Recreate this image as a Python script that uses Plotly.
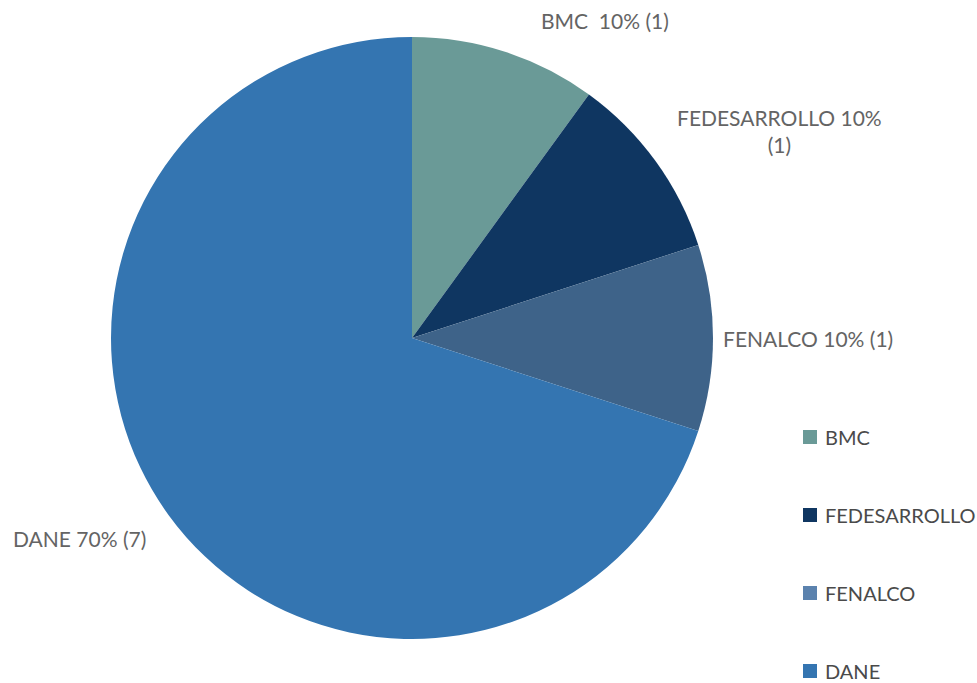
import plotly.graph_objects as go

labels = ["BMC", "FEDESARROLLO", "FENALCO", "DANE"]
values = [1, 1, 1, 7]
colors = ["#6A9A97", "#0F3661", "#3E6389", "#3475B1"]
legend_colors = ["#6A9A97", "#0F3661", "#5B82AE", "#3475B1"]
label_texts = ["BMC  10% (1)", "FEDESARROLLO 10%<br>(1)", "FENALCO 10% (1)", "DANE 70% (7)"]

W, H = 977, 683
FONT = "Lato, 'Open Sans', sans-serif"

def px(x):
    return x / W

def py(y):
    return 1 - y / H

cx, cy, r = 412, 338, 301

fig = go.Figure()
fig.add_trace(go.Pie(
    labels=labels,
    values=values,
    sort=False,
    direction="clockwise",
    rotation=0,
    marker=dict(colors=colors, line=dict(width=0)),
    textinfo="none",
    hoverinfo="label+percent+value",
    showlegend=False,
    domain=dict(x=[px(cx - r), px(cx + r)], y=[py(cy + r), py(cy - r)]),
))

# data labels
label_pos = [(605, 20), (779, 131), (808, 338), (79, 538)]
annotations = []
for t, (x, y) in zip(label_texts, label_pos):
    annotations.append(dict(
        x=px(x), y=py(y), xref="paper", yref="paper", text=t, showarrow=False,
        xanchor="center", yanchor="middle",
        font=dict(family=FONT, size=21, color="#646464"),
    ))

# manual legend
shapes = []
leg_y = [437, 515, 593, 671]
for lab, col, y in zip(labels, legend_colors, leg_y):
    shapes.append(dict(
        type="rect", xref="paper", yref="paper",
        x0=px(803), x1=px(817), y0=py(y + 7), y1=py(y - 7),
        fillcolor=col, line=dict(width=0),
    ))
    annotations.append(dict(
        x=px(823), y=py(y), xref="paper", yref="paper", text=lab, showarrow=False,
        xanchor="left", yanchor="middle",
        font=dict(family=FONT, size=20, color="#4a4a4a"),
    ))

fig.update_layout(
    width=W, height=H,
    margin=dict(l=0, r=0, t=0, b=0),
    paper_bgcolor="white",
    plot_bgcolor="white",
    annotations=annotations,
    shapes=shapes,
)

fig.write_html(
    "out.html",
    config={"displayModeBar": False},
    post_script="document.body.style.margin='0';document.body.style.overflow='hidden';",
)
